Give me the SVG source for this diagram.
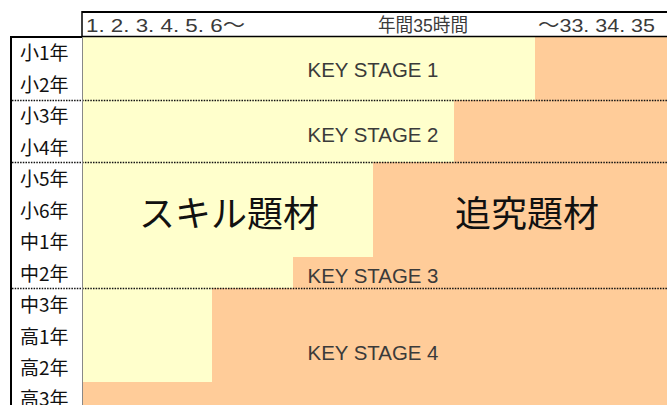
<svg xmlns="http://www.w3.org/2000/svg" width="667" height="405" viewBox="0 0 667 405">
<style>
.y{fill:#FFFFCC}
.o{fill:#FFCC99}
.ks{font-family:"Liberation Sans",Arial,sans-serif;font-size:21px;fill:#3a3a3a;text-anchor:middle}
.hd{font-family:"Liberation Sans","Noto Sans CJK JP",sans-serif;font-size:19px;fill:#3a3a3a}
.lb{font-family:"Noto Sans CJK JP",sans-serif;font-size:19px;fill:#111}
.big{font-family:"Noto Sans CJK JP",sans-serif;font-size:36px;fill:#111;text-anchor:middle}
.dot{stroke:#111;stroke-width:1.3;stroke-dasharray:1.5 1.2;fill:none}
.bd{stroke:#000;fill:none}
</style>
<rect x="0" y="0" width="667" height="405" fill="#fff"/>
<g id="ks1">
<rect class="y" x="83" y="37" width="452" height="63"/>
<rect class="o" x="535" y="37" width="132" height="63"/>
<text class="ks" x="373" y="77" textLength="131" lengthAdjust="spacingAndGlyphs">KEY STAGE 1</text>
</g>
<g id="ks2">
<rect class="y" x="83" y="100" width="371" height="62"/>
<rect class="o" x="454" y="100" width="213" height="62"/>
<text class="ks" x="373" y="142" textLength="131" lengthAdjust="spacingAndGlyphs">KEY STAGE 2</text>
</g>
<g id="ks3">
<rect class="o" x="83" y="162" width="584" height="126"/>
<path class="y" d="M83 162H373V257H293V288H83Z"/>
<text class="ks" x="373" y="283" textLength="131" lengthAdjust="spacingAndGlyphs">KEY STAGE 3</text>
</g>
<g id="ks4">
<rect class="o" x="83" y="288" width="584" height="117"/>
<rect class="y" x="83" y="288" width="129" height="94"/>
<text class="ks" x="373" y="360" textLength="131" lengthAdjust="spacingAndGlyphs">KEY STAGE 4</text>
</g>
<g id="skill">
<text class="big" x="229" y="227">スキル題材</text>
</g>
<g id="tsuikyu">
<text class="big" x="527" y="227">追究題材</text>
</g>
<g id="header">
<text class="hd" x="86" y="32" textLength="159" lengthAdjust="spacingAndGlyphs">1. 2. 3. 4. 5. 6〜</text>
<text class="hd" x="423" y="32" text-anchor="middle" textLength="90" lengthAdjust="spacingAndGlyphs">年間35時間</text>
<text class="hd" x="538" y="32" textLength="117" lengthAdjust="spacingAndGlyphs">〜33. 34. 35</text>
</g>
<g id="rows">
<text class="lb" x="20" y="60">小1年</text>
<text class="lb" x="20" y="92">小2年</text>
<text class="lb" x="20" y="123">小3年</text>
<text class="lb" x="20" y="155">小4年</text>
<text class="lb" x="20" y="186">小5年</text>
<text class="lb" x="20" y="218">小6年</text>
<text class="lb" x="20" y="249">中1年</text>
<text class="lb" x="20" y="281">中2年</text>
<text class="lb" x="20" y="312">中3年</text>
<text class="lb" x="20" y="344">高1年</text>
<text class="lb" x="20" y="375">高2年</text>
<text class="lb" x="20" y="406">高3年</text>
</g>
<g id="lines">
<line class="dot" x1="12" y1="100.5" x2="667" y2="100.5"/>
<line class="dot" x1="12" y1="162.5" x2="667" y2="162.5"/>
<line class="dot" x1="12" y1="288.5" x2="667" y2="288.5"/>
<path class="bd" stroke-width="2" d="M82 12H667"/>
<path class="bd" stroke-width="1.5" d="M82 11V36.5H667"/>
<path class="bd" stroke-width="2" d="M11 405V37H82"/>
<line x1="82.5" y1="37" x2="82.5" y2="405" stroke="#888" stroke-width="1"/>
</g>
</svg>
